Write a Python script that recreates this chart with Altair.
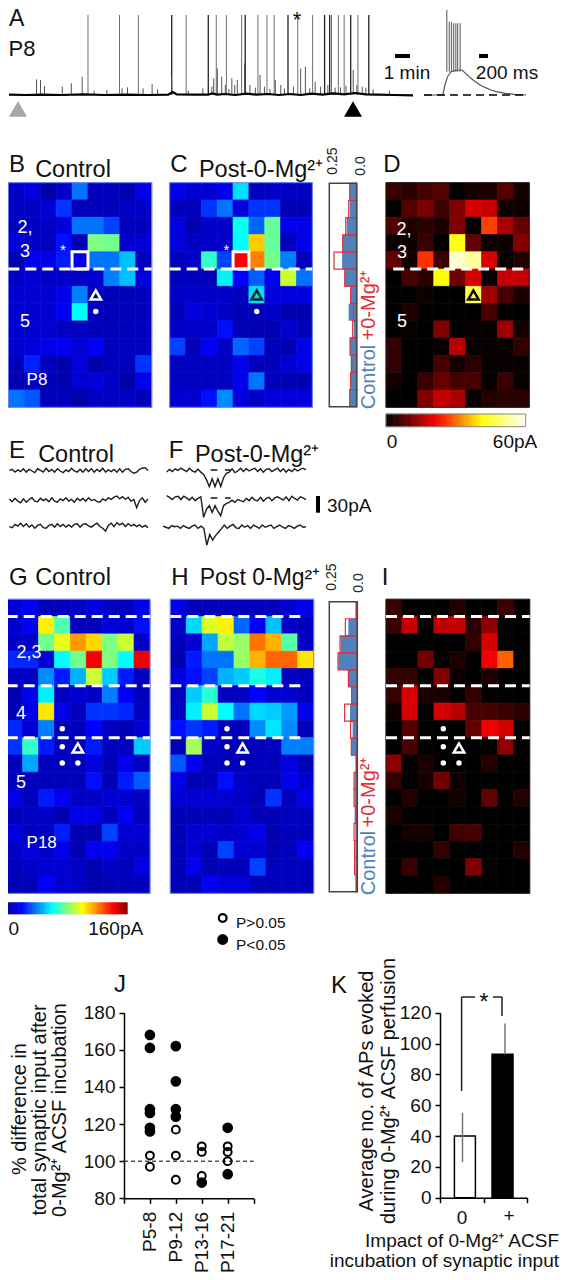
import altair as alt
import numpy as np
import pandas as pd

FONT = "Liberation Sans"
W, H = 552, 1264

# ---------- data ----------
jet_dom = [0, 20, 60, 100, 140, 160]
jet_rng = ["#00008f", "#0000ff", "#00ffff", "#ffff00", "#ff0000", "#800000"]
hot_dom = [0, 36, 68, 100]
hot_rng = ["#000000", "#ff0000", "#ffff00", "#ffffff"]

B = [[10,14,5,10,38,8,8,6,16],[9,9,12,28,8,8,8,9,10],[8,9,10,14,38,38,30,8,8],[14,10,9,22,6,80,78,12,12],
     [6,18,16,24,16,38,38,50,8],[10,12,10,10,10,12,40,50,14],[12,12,12,16,40,8,7,7,8],[12,12,12,18,60,8,7,7,8],
     [12,12,12,9,9,7,7,8,8],[12,14,16,18,12,18,8,9,9],[8,25,8,6,14,5,8,8,28],[6,10,8,6,12,13,10,5,16],
     [38,34,8,8,5,9,9,10,7]]
C = [[16,12,12,16,55,8,10,10,9],[8,8,28,38,14,28,28,7,7],[14,6,10,10,62,36,76,16,16],[14,10,10,10,60,108,76,8,16],
     [8,10,68,30,140,120,78,40,8],[8,8,8,58,20,35,18,92,38],[10,10,10,10,8,55,14,14,14],[8,14,12,10,7,8,10,6,6],
     [10,10,10,22,7,6,6,12,8],[30,8,18,10,36,30,8,6,16],[9,9,9,9,16,8,8,12,16],[9,9,9,9,16,38,8,7,7],
     [12,12,22,42,14,10,14,14,14]]
D = [[8,6,10,12,0,3,4,12,3],[0,12,17,8,18,30,28,2,2],[12,4,6,4,18,0,44,24,14],[2,2,8,0,70,14,2,2,18],
     [14,2,42,8,94,88,30,1,5],[0,10,6,68,16,30,1,28,28],[0,0,2,0,0,78,22,10,4],[0,4,0,0,0,0,10,0,0],
     [0,1,0,18,0,1,1,22,3],[7,0,0,1,26,1,1,1,7],[7,0,0,10,3,6,1,1,1],[3,0,8,14,10,10,1,8,1],
     [0,0,18,28,24,1,5,6,6]]
G = [[12,18,8,8,10,14,10,8,16],[12,18,102,72,8,8,14,12,22],[10,10,78,96,116,106,80,92,10],[26,26,12,60,78,142,80,60,142],
     [9,9,42,24,48,92,52,24,8],[7,16,58,9,12,10,40,18,8],[7,16,104,16,8,28,28,26,9],[26,12,40,8,8,20,9,7,12],
     [28,68,24,8,8,24,9,9,52],[8,46,8,8,8,14,7,16,9],[8,8,8,8,8,22,7,24,34],[16,8,24,18,10,10,12,12,10],
     [7,10,10,6,16,16,8,18,8],[14,8,10,24,6,6,30,12,12],[10,14,10,16,6,17,17,10,10],[8,10,12,12,10,6,10,8,14],
     [7,7,20,12,10,6,7,8,8]]
Hh = [[16,8,8,8,8,8,8,12,16],[10,54,94,102,36,18,50,10,8],[8,12,46,90,84,122,112,74,10],[6,24,38,38,84,112,124,124,104],
      [14,22,30,48,52,64,58,9,9],[8,52,66,9,9,20,12,12,8],[9,58,92,60,38,54,52,44,16],[22,28,24,8,8,42,56,42,7],
      [6,86,10,8,8,8,9,40,40],[34,18,8,8,8,8,8,14,7],[16,6,8,22,10,7,7,16,12],[12,12,12,12,10,7,28,8,16],
      [7,7,7,7,12,7,7,9,9],[7,12,12,10,12,16,6,8,8],[7,12,7,30,12,12,6,8,18],[7,16,7,8,8,30,8,8,8],
      [7,7,18,14,14,7,8,8,8]]
I = [[8,0,0,0,5,0,0,8,0],[8,28,0,26,28,6,20,0,0],[0,0,0,0,0,7,30,0,0],[0,0,16,0,4,0,34,48,0],
     [7,7,0,18,1,0,4,0,0],[8,30,4,4,0,7,0,0,0],[2,30,0,30,26,10,10,8,6],[0,12,0,0,0,14,34,30,0],
     [0,10,0,0,0,0,0,20,0],[20,0,4,0,0,0,5,0,0],[7,0,3,16,2,0,0,0,0],[0,5,0,0,3,0,14,0,5],
     [4,0,0,0,0,0,0,0,0],[0,3,3,0,9,10,0,0,0],[0,0,0,7,0,0,0,0,5],[0,8,0,0,0,18,1,0,0],[0,0,0,5,0,0,0,0,0]]

hist1_ctrl = [.073,.077,.11,.153,.16,.128,.066,.088,.033,.073,.066,.073,.077]
hist1_mg   = [.077,.088,.12,.153,.248,.131,.066,.033,.044,.073,.055,.066,.077]
hist2_ctrl = [.01,.096,.179,.203,.096,.061,.078,.05,.061,.014,.029,.029,.029,.021,.021,.021,.014]
hist2_mg   = [.014,.128,.185,.207,.096,.061,.136,.072,.064,.014,.035,.035,.014,.035,.029,.029,.014]

tall_gray = [243,330,382,514,597,625,667,712,737,757,822,863,915,934,950,988]
tall_dark = [474,575,677,795,896,910,968,1018]
short_x = [101,112,123,172,197,227,260,295,337,352,395,420,435,474,520,560,590,600,612,640,655,675,690,718,760,775,830,843,
           870,885,940,975,1000,1030,1075,585,622,632,648,705,730,745,785,810,855,905,925,955,985,1010]
short_h = [47,45,27,25,35,55,13,15,20,23,20,33,17,55,13,20,50,80,55,50,45,95,30,60,45,30,80,85,40,25,23,75,25,17,13,
           25,30,18,30,22,25,18,20,25,20,30,22,28,30,22]
base_x = [25,70,120,170,230,290,350,410,465,476,488,540,575,585,600,620,650,680,710,740,770,800,830,860,890,920,950,980,1010,1040,1090,1140]
base_y = [1,0,1,0,2,0,1,0,1,9,2,1,1,5,1,3,0,4,1,3,0,3,0,4,1,5,2,6,2,1,0,-1]

ins_x = [1170,1222,1228,1235,1245,1262,1275,1285,1300,1312,1325,1340,1355,1370,1395,1420,1452]
ins_y = [0,0,30,55,70,75,75,65,50,40,30,22,15,10,5,2,0]
ins_sp = [1233,1240,1246,1252,1258,1263,1270]
ins_top = [255,220,220,215,215,215,215]

E1 = [1,3,-2,2,-1,4,-2,3,0,-3,4,1,-2,5,-1,3,-2,4,0,-3,2,-1,5,0,-2,3,-2,4,-1,4,-2,3,-1,5,-2,2,-1,3,-2,4,-2,3,4,-1,-4,-2,3,5,6,1]
E2 = [2,-3,3,-2,-5,2,-4,1,4,-2,-3,3,-1,2,-3,4,-2,-4,2,-1,4,-2,1,-4,3,-1,3,-2,4,-1,1,-3,-4,2,-1,4,1,5,7,2,6,1,5,-2,1,-14,-1,4,-4,2]
E3 = [-1,-3,3,0,5,-1,4,-2,2,-4,1,3,-3,-4,1,3,-2,4,-1,3,-2,2,-2,3,4,-2,3,4,0,-2,2,5,-1,-4,-9,1,5,-1,6,2,5,-1,4,0,3,-1,2,-2,1,-3]
F1 = [-2,3,-1,4,1,5,2,-1,5,0,-2,3,-2,-6,-16,-28,-14,-28,-14,-28,-12,-4,-2,4,-3,0,5,-1,4,0,3,5,-1,4,-2,3,4,-1,2,5,-1,4,-2,3,-1,4,0,3,5,2]
F2 = [6,3,-1,4,5,-1,5,2,-2,3,-3,1,4,-33,-18,-12,-24,-12,-22,-30,-12,-8,-6,-2,-6,-1,-3,-5,1,-3,3,-2,-3,3,-4,1,3,-3,2,4,1,-2,4,-3,5,1,-2,4,2,-1]
F3 = [1,-1,-3,2,0,1,-3,2,-1,-3,1,3,-3,1,-3,-33,-14,-24,-16,-10,-4,3,-3,1,4,-2,-3,3,-1,2,-3,3,0,-3,3,-1,1,3,-3,0,3,-1,-3,2,0,-3,1,3,-1,0]
F_dashes = [[632,652],[675,692]]

J_cat = ["P5-8","P5-8","P5-8","P5-8","P5-8","P5-8","P5-8","P5-8",
         "P9-12","P9-12","P9-12","P9-12","P9-12","P9-12","P9-12",
         "P13-16","P13-16","P13-16","P13-16","P17-21","P17-21","P17-21","P17-21","P17-21"]
J_val = [168,161,128,126,118,116,103,97, 162,143,128,124,117,103,90, 108,105,92,88.5, 118,93,108,105,100]
J_sig = [1,1,1,1,1,1,0,0, 1,1,1,1,0,0,0, 0,0,0,1, 1,1,0,0,0]
J_names = ["","P5-8","P9-12","P13-16","P17-21",""]

K_pos = [0.517,1.494]
K_val = [40,93]
K_low = [23,93]
K_high = [55,113]
K_fill = ["#ffffff","#000000"]

# ---------- helpers (all positions in reference-image pixels) ----------
def px(v): return v - 8

def qx(f, dom, rng):
    return alt.X(f, type="quantitative", axis=None, scale=alt.Scale(domain=dom, range=[px(rng[0]), px(rng[1])], nice=False, zero=False))
def qx2(f): return alt.X2(f)
def qy(f, dom, rng):
    return alt.Y(f, type="quantitative", axis=None, scale=alt.Scale(domain=dom, range=[px(rng[0]), px(rng[1])], nice=False, zero=False))

layers = []
def add(c): layers.append(c)

def text(s, x, y, size=18, color="#111111", align="center", angle=None, baseline="middle"):
    kw = dict(text=s, font=FONT, fontSize=size, color=color, align=align, baseline=baseline)
    if angle is not None:
        kw["angle"] = angle
    add(alt.Chart().mark_text(**kw).encode(x=alt.value(px(x)), y=alt.value(px(y))))

def hbar(x0, x1, y, color="#000000", width=4):
    add(alt.Chart().mark_rule(color=color, strokeWidth=width).encode(x=alt.value(px(x0)), x2=alt.value(px(x1)), y=alt.value(px(y))))
def vbar(x, y0, y1, color="#000000", width=4):
    add(alt.Chart().mark_rule(color=color, strokeWidth=width).encode(x=alt.value(px(x)), y=alt.value(px(y0)), y2=alt.value(px(y1))))

def cscale(dom, rng):
    return alt.Scale(domain=dom, range=rng, interpolate="rgb")

def heat(grid, xr, yr, dom, rng, frame):
    rows = len(grid)
    df = pd.DataFrame([{"c": c, "c2": c + 1, "r": r, "r2": r + 1, "v": grid[r][c]} for r in range(rows) for c in range(9)])
    add(alt.Chart(df).mark_rect(strokeWidth=0.7).encode(
        x=qx("c", [0, 9], xr), x2=qx2("c2"), y=qy("r", [0, rows], yr), y2=alt.Y2("r2"),
        color=alt.Color("v:Q", legend=None, scale=cscale(dom, rng)),
        stroke=alt.Stroke("v:Q", legend=None, scale=cscale(dom, rng))))
    add(alt.Chart().mark_rect(fill=None, stroke=frame, strokeWidth=1).encode(
        x=alt.value(px(xr[0])), x2=alt.value(px(xr[1])), y=alt.value(px(yr[0])), y2=alt.value(px(yr[1]))))

def dashes(xr, yr, rows, r, c0=0, c1=9):
    df = pd.DataFrame({"c": [c0], "c2": [c1], "r": [r]})
    add(alt.Chart(df).mark_rule(color="#ffffff", strokeWidth=3, strokeDash=[11, 6]).encode(
        x=qx("c", [0, 9], xr), x2=qx2("c2"), y=qy("r", [0, rows], yr)))

def marker(cs, rs, xr, yr, rows, shape, size, fill=None, stroke=None, sw=0):
    df = pd.DataFrame({"c": cs, "r": rs})
    kw = dict(shape=shape, size=size, opacity=1, strokeWidth=sw, filled=fill is not None)
    if fill is not None: kw["fill"] = fill
    if stroke is not None: kw["stroke"] = stroke
    add(alt.Chart(df).mark_point(**kw).encode(x=qx("c", [0, 9], xr), y=qy("r", [0, rows], yr)))

def box(xr, yr, dom, rows, ctrl, mg):
    df = pd.DataFrame({"r": range(rows), "r2": [i + 1 for i in range(rows)], "a": ctrl, "b": mg, "z": [0] * rows})
    add(alt.Chart(df).mark_rect(color="#4f81bd").encode(x=qx("a", dom, xr), x2=qx2("z"), y=qy("r", [0, rows], yr), y2=alt.Y2("r2")))
    add(alt.Chart(df).mark_rect(fill=None, stroke="#e0303a", strokeWidth=1.2).encode(x=qx("b", dom, xr), x2=qx2("z"), y=qy("r", [0, rows], yr), y2=alt.Y2("r2")))
    add(alt.Chart().mark_rect(fill=None, stroke="#444444", strokeWidth=1.5).encode(
        x=alt.value(px(xr[1])), x2=alt.value(px(xr[0])), y=alt.value(px(yr[0])), y2=alt.value(px(yr[1]))))

def trace(vals, xr, base):
    df = pd.DataFrame({"t": np.arange(len(vals)), "v": vals})
    add(alt.Chart(df).mark_line(color="#1c1c1c", strokeWidth=1.4).encode(
        x=qx("t", [0, len(vals) - 1], xr), y=qy("v", [-30, 30], [base + 16.7, base - 16.7])))

def colorbar(xr, yr, dom, rng, top):
    vals = list(np.linspace(0, top, 65))
    df = pd.DataFrame({"a": vals[:-1], "b": vals[1:]})
    add(alt.Chart(df).mark_rect(strokeWidth=0.7).encode(
        x=qx("a", [0, top], xr), x2=qx2("b"),
        y=alt.value(px(yr[0])), y2=alt.value(px(yr[1])),
        color=alt.Color("a:Q", legend=None, scale=cscale(dom, rng)),
        stroke=alt.Stroke("a:Q", legend=None, scale=cscale(dom, rng))))

# ---------- panel A ----------
ax = (9, 413)
ay = (95, 15)
a_dom = [0, 240]
df = pd.DataFrame({"x": tall_gray, "y": [240] * len(tall_gray), "z": [0] * len(tall_gray)})
add(alt.Chart(df).mark_rule(color="#6e6e6e", strokeWidth=1).encode(x=qx("x", [25, 1140], ax), y=qy("y", a_dom, ay), y2=alt.Y2("z")))
df = pd.DataFrame({"x": tall_dark, "y": [240] * len(tall_dark), "z": [0] * len(tall_dark)})
add(alt.Chart(df).mark_rule(color="#222222", strokeWidth=1.3).encode(x=qx("x", [25, 1140], ax), y=qy("y", a_dom, ay), y2=alt.Y2("z")))
df = pd.DataFrame({"x": short_x, "y": short_h, "z": [0] * len(short_x)})
add(alt.Chart(df).mark_rule(color="#555555", strokeWidth=1).encode(x=qx("x", [25, 1140], ax), y=qy("y", a_dom, ay), y2=alt.Y2("z")))
df = pd.DataFrame({"x": base_x, "y": base_y})
add(alt.Chart(df).mark_line(color="#000000", strokeWidth=2.2).encode(x=qx("x", [25, 1140], ax), y=qy("y", a_dom, ay)))

i_x = (424, 526)
i_dom = [1170, 1452]
i_y = [0, 255]
i_yr = (95, 10)
df = pd.DataFrame({"x": ins_sp, "y": ins_top, "z": [70] * len(ins_sp)})
add(alt.Chart(df).mark_rule(color="#707070", strokeWidth=1.2).encode(x=qx("x", i_dom, i_x), y=qy("y", i_y, i_yr), y2=alt.Y2("z")))
df = pd.DataFrame({"x": ins_x, "y": ins_y})
add(alt.Chart(df).mark_line(color="#555555", strokeWidth=1.2).encode(x=qx("x", i_dom, i_x), y=qy("y", i_y, i_yr)))
df = pd.DataFrame({"x": [1170], "x2": [1452], "y": [0]})
add(alt.Chart(df).mark_rule(color="#000000", strokeWidth=1.5, strokeDash=[8, 5]).encode(x=qx("x", i_dom, i_x), x2=qx2("x2"), y=qy("y", i_y, i_yr)))

add(alt.Chart().mark_point(shape="triangle-up", size=324, filled=True, fill="#a6a6a6", opacity=1, strokeWidth=0).encode(x=alt.value(px(18)), y=alt.value(px(109))))
add(alt.Chart().mark_point(shape="triangle-up", size=324, filled=True, fill="#000000", opacity=1, strokeWidth=0).encode(x=alt.value(px(353)), y=alt.value(px(109))))
text("A", 9, 19, 23, align="left")
text("P8", 22, 49, 22)
text("*", 297, 20, 22)
hbar(395, 410, 56)
text("1 min", 407, 73, 19)
hbar(479, 488, 56)
text("200 ms", 507, 73, 19)

# ---------- panels B C hist D ----------
by = (182.7, 407.3)
bx, cx, dx = (8.3, 151.7), (169.7, 312.3), (386, 529.3)
heat(B, bx, by, jet_dom, jet_rng, "#6f8cf0")
heat(C, cx, by, jet_dom, jet_rng, "#6f8cf0")
heat(D, dx, by, hot_dom, hot_rng, "#222222")
for xr, c0 in ((bx, 0), (cx, 0), (dx, 0.45)):
    dashes(xr, by, 13, 5, c0)
text("B", 9, 165, 24, align="left"); text("Control", 73, 170, 23.5)
text("C", 179, 165, 24); text("Post-0-Mg²⁺", 261, 170, 23.5)
text("D", 392, 165, 24)
for s, y in (("2,", 228), ("3", 252), ("5", 322)):
    text(s, 25, y, 18, "#ffffff")
text("P8", 37, 380, 17, "#ffffff")
text("*", 63, 250, 15, "#ffffff")
text("*", 226.5, 250, 15, "#ffffff")
for xr in (bx, cx):
    sq = pd.DataFrame({"c": [4], "c2": [5], "r": [4], "r2": [5]})
    add(alt.Chart(sq).mark_rect(fill=None, stroke="#ffffff", strokeWidth=3).encode(
        x=qx("c", [0, 9], xr), x2=qx2("c2"), y=qy("r", [0, 13], by), y2=alt.Y2("r2")))
marker([5.49], [6.5], bx, by, 13, "triangle-up", 110, None, "#ffffff", 2.5)
marker([5.49], [7.45], bx, by, 13, "circle", 30, "#ffffff")
marker([5.49], [6.5], cx, by, 13, "triangle-up", 110, None, "#0a2a2a", 2.5)
marker([5.49], [7.45], cx, by, 13, "circle", 30, "#ffffff")
marker([5.49], [6.5], dx, by, 13, "triangle-up", 110, None, "#111111", 2.5)
for s, x, y in (("2,", 404, 230), ("3", 402, 253), ("5", 402, 322)):
    text(s, x, y, 18, "#ffffff")
box((356.7, 329.3), (183.3, 406.7), [0, 0.3], 13, hist1_ctrl, hist1_mg)
text("0.25", 333, 161, 14, "#222222", angle=270)
text("0.0", 360.5, 166, 14, "#222222", angle=270)
text("Control", 369, 377, 20, "#4f81bd", angle=270)
text("+0-Mg²⁺", 369, 305, 20, "#e0303a", angle=270)
colorbar(dx[:1] + (525.7,), (414, 426.7), hot_dom, hot_rng, 100)
add(alt.Chart().mark_rect(fill=None, stroke="#888888", strokeWidth=1).encode(
    x=alt.value(px(386)), x2=alt.value(px(525.7)), y=alt.value(px(414)), y2=alt.value(px(426.7))))
text("0", 392, 442, 19)
text("60pA", 515, 442, 19)

# ---------- panels E F ----------
text("E", 9, 451, 24, align="left"); text("Control", 76, 455, 23.5)
text("F", 176, 451, 24); text("Post-0-Mg²⁺", 257, 455, 23.5)
trace(E1, (9.3, 148), 471); trace(E2, (9.3, 148), 500); trace(E3, (9.3, 148), 526)
trace(F1, (166.7, 306), 471); trace(F2, (166.7, 306), 499); trace(F3, (163, 306), 526.7)
for seg in F_dashes:
    hbar(seg[0] / 3, seg[1] / 3, 470, "#111111", 1.5)
    hbar(seg[0] / 3, seg[1] / 3, 498, "#111111", 1.5)
vbar(318, 496, 512.7)
text("30pA", 327, 506, 19, align="left")

# ---------- panels G H hist I ----------
gy = (599.3, 893.3)
gx, hx, ix = (6.7, 150), (170.3, 313.7), (386, 529.7)
heat(G, gx, gy, jet_dom, jet_rng, "#6f8cf0")
heat(Hh, hx, gy, jet_dom, jet_rng, "#6f8cf0")
heat(I, ix, gy, hot_dom, hot_rng, "#222222")
for r in (1, 5, 8):
    dashes(gx, gy, 17, r)
    dashes(hx, gy, 17, r, 0, 8.4)
    dashes(ix, gy, 17, r)
text("G", 9, 578, 24, align="left"); text("Control", 73, 578, 23.5)
text("H", 180, 578, 24); text("Post 0-Mg²⁺", 260, 578, 23)
text("I", 385, 578, 24)
text("2,3", 29, 653, 18, "#ffffff")
text("4", 21, 714, 18, "#ffffff")
text("5", 21, 783, 18, "#ffffff")
text("P18", 41.7, 843, 17, "#ffffff")
for xr, a, b in ((gx, 3.49, 4.47), (hx, 3.56, 4.54), (ix, 3.59, 4.57)):
    marker([a, a, a, b], [7.48, 8.52, 9.46, 9.46], xr, gy, 17, "circle", 30, "#ffffff")
    marker([b], [8.6], xr, gy, 17, "triangle-up", 110, None, "#ffffff", 2.5)
box((357.3, 329.3), (601.7, 891.7), [0, 0.3], 17, hist2_ctrl, hist2_mg)
text("0.25", 332, 577, 14, "#222222", angle=270)
text("0.0", 359, 583, 14, "#222222", angle=270)
text("Control", 369, 863, 20, "#4f81bd", angle=270)
text("+0-Mg²⁺", 369, 792, 20, "#e0303a", angle=270)
colorbar((6, 127.3), (902.7, 914), jet_dom, jet_rng, 160)
text("0", 8.5, 929, 19, align="left")
text("160pA", 115.7, 929, 19)

add(alt.Chart().mark_point(shape="circle", size=60, filled=False, stroke="#000000", strokeWidth=2.2, opacity=1).encode(x=alt.value(px(222.7)), y=alt.value(px(918))))
add(alt.Chart().mark_point(shape="circle", size=120, filled=True, fill="#000000", strokeWidth=0, opacity=1).encode(x=alt.value(px(222.7)), y=alt.value(px(939.5))))
text("P>0.05", 236, 923, 15.5, align="left")
text("P<0.05", 236, 945, 15.5, align="left")

# ---------- panel J ----------
jx = (124, 253.6)
jy = (1198.3, 1012.7)
jdf = pd.DataFrame({"c": [J_names.index(v) for v in J_cat], "v": J_val, "s": J_sig})
add(alt.Chart(pd.DataFrame({"c": [0], "c2": [5], "v": [100]})).mark_rule(color="#000000", strokeWidth=1, strokeDash=[4, 3]).encode(
    x=qx("c", [0, 5], jx), x2=qx2("c2"), y=qy("v", [80, 180], jy)))
add(alt.Chart(jdf[jdf.s == 0]).mark_point(shape="circle", size=62, filled=False, stroke="#000000", strokeWidth=2, opacity=1).encode(
    x=qx("c", [0, 5], jx), y=qy("v", [80, 180], jy)))
add(alt.Chart(jdf[jdf.s == 1]).mark_point(shape="circle", size=115, filled=True, fill="#000000", strokeWidth=0, opacity=1).encode(
    x=qx("c", [0, 5], jx), y=qy("v", [80, 180], jy)))

AX = dict(domainColor="#000000", domainWidth=1.5, tickColor="#000000", tickWidth=1.5, tickSize=5, grid=False, title=None,
          labelFont=FONT, labelFontSize=19, labelColor="#111111")
label_expr = "['','P5-8','P9-12','P13-16','P17-21',''][datum.value]"
add(alt.Chart(jdf).mark_point(opacity=0).encode(
    x=alt.X("c", type="quantitative", scale=alt.Scale(domain=[0, 5], range=[px(124), px(253.6)], nice=False, zero=False),
            axis=alt.Axis(orient="bottom", offset=px(1198.3) - H, values=[0, 1, 2, 3, 4, 5], labelExpr=label_expr, labelAngle=-90,
                          labelPadding=8, labelAlign="right", labelBaseline="middle", **AX)),
    y=alt.Y("v", type="quantitative", scale=alt.Scale(domain=[80, 180], range=[px(1198.3), px(1012.7)], nice=False, zero=False),
            axis=alt.Axis(orient="left", offset=-px(124), values=[80, 100, 120, 140, 160, 180], labelPadding=4, **AX))))
text("J", 120, 985, 24)
text("% difference in", 20, 1109, 20, angle=270)
text("total synaptic input after", 40, 1110, 20, angle=270)
text("0-Mg²⁺ ACSF incubation", 60, 1110, 20, angle=270)

# ---------- panel K ----------
kx = (440, 527)
ky = (1197.7, 1012.7)
kdf = pd.DataFrame({"x": K_pos, "v": K_val, "lo": K_low, "hi": K_high, "f": K_fill})
add(alt.Chart(kdf).mark_bar(size=21, stroke="#000000", strokeWidth=1.5).encode(
    x=qx("x", [0, 2], kx), y=qy("v", [0, 120], ky),
    fill=alt.Fill("f:N", scale=None)))
add(alt.Chart(kdf).mark_rule(color="#777777", strokeWidth=1.5).encode(
    x=qx("x", [0, 2], kx), y=qy("lo", [0, 120], ky), y2=alt.Y2("hi")))
add(alt.Chart(kdf).mark_point(opacity=0).encode(
    x=alt.X("x", type="quantitative", scale=alt.Scale(domain=[0, 2], range=[px(440), px(527)], nice=False, zero=False),
            axis=alt.Axis(orient="bottom", offset=px(1197.7) - H, values=[0, 1, 2], labels=False, **AX)),
    y=alt.Y("v", type="quantitative", scale=alt.Scale(domain=[0, 120], range=[px(1197.7), px(1012.7)], nice=False, zero=False),
            axis=alt.Axis(orient="left", offset=-px(440), values=[0, 20, 40, 60, 80, 100, 120], labelPadding=4, **AX))))
vbar(461.6, 1091, 997, "#222222", 1.5)
hbar(461.6, 475, 997, "#222222", 1.5)
hbar(493, 502, 997, "#222222", 1.5)
vbar(502, 997, 1016, "#222222", 1.5)
text("*", 484, 1003, 24)
text("0", 462, 1218, 19)
text("+", 509, 1216, 19)
text("K", 339, 986, 24)
text("Average no. of APs evoked", 367, 1091, 20, angle=270)
text("during 0-Mg²⁺ ACSF perfusion", 389, 1091, 20, angle=270)
text("Impact of 0-Mg²⁺ ACSF", 559, 1241, 19, align="right")
text("incubation of synaptic input", 559, 1261, 19, align="right")

chart = alt.layer(*layers).resolve_scale(x="independent", y="independent", color="independent", stroke="independent").properties(
    width=W, height=H, padding=0, autosize=alt.AutoSizeParams(type="none")
).configure_view(stroke=None)

chart.save("out.html", embed_options={"renderer": "svg", "actions": False})
